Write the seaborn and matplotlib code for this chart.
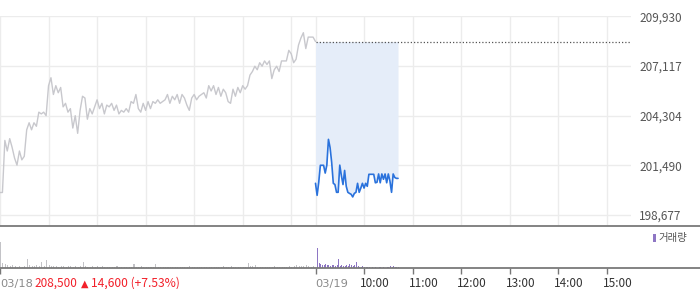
import numpy as np
import pandas as pd
import matplotlib
matplotlib.use("Agg")
import matplotlib.pyplot as plt
import matplotlib.transforms as mtransforms
from matplotlib.lines import Line2D
from matplotlib.patches import Rectangle
import seaborn as sns

# ---------------- data ----------------
prev_close = 208500
change_text = "14,600 (+7.53%)"
close_text = "208,500"

# day 1 (03/18) prices, every 3 minutes from 09:00 to 15:30
day1_price = [
    199950, 199950, 202900, 202300, 203000, 202500, 201900, 201500, 202300, 201800,
    202000, 203500, 203900, 203500, 203900, 203700, 204500, 204400, 204500, 204300,
    206000, 206450, 205500, 206000, 205600, 205900, 204800, 205000, 204500, 204700,
    203600, 204300, 203300, 204600, 205400, 205300, 204100, 204700, 204400, 204800,
    205200, 204700, 205000, 204400, 204900, 204800, 205000, 204600, 204900, 204400,
    204600, 204500, 204700, 204500, 205100, 205000, 205500, 204700, 204500, 205000,
    204600, 205100, 204700, 205100, 205000, 205200, 205000, 205100, 205200, 205500,
    205000, 205400, 205200, 205500, 205000, 205500, 205300, 204900, 204600, 205300,
    205500, 205200, 205400, 205500, 205600, 205300, 206000, 205700, 206000, 205500,
    205900, 205400, 205800, 205600, 205100, 205000, 205800, 205400, 205900, 205600,
    206000, 205800, 206000, 206600, 206800, 207100, 206900, 207300, 207100, 207400,
    207200, 207400, 206400, 206900, 207100, 206800, 207400, 207400, 207400, 208000,
    207800, 207300, 207500, 208300, 208700, 209000, 208100, 208750, 208750, 208750,
    208500,
]

# day 2 (03/19) prices, every 2 minutes from 09:00
day2_price = [
    200470, 199790, 200530, 201490, 201490, 201490, 201050, 201500, 202960, 202500,
    201650, 200470, 200400, 199960, 199960, 201500, 200900, 200400, 201200, 200300,
    199960, 199900, 199850, 199700, 199900, 199960, 200470, 199960, 200200, 200470,
    200200, 200470, 200300, 200980, 200980, 200980, 200980, 200500, 200530, 201000,
    200500, 201000, 200700, 201000, 200500, 201000, 200600, 199960, 201000, 200800,
    200750, 200750,
]

# volume (relative units)
day1_volume = [
    26, 5, 4, 3, 2, 3, 2, 1, 2, 1,
    2, 9, 3, 2, 2, 3, 2, 6, 2, 8,
    3, 2, 2, 2, 1, 2, 2, 1, 2, 2,
    1, 2, 1, 2, 6, 2, 1, 1, 2, 1,
    2, 1, 2, 1, 1, 1, 1, 1, 2, 1,
    1, 1, 1, 1, 1, 4, 1, 1, 2, 1,
    1, 1, 1, 1, 4, 1, 1, 1, 1, 1,
    1, 1, 1, 1, 1, 1, 1, 1, 2, 1,
    1, 1, 1, 1, 1, 1, 1, 1, 1, 1,
    1, 1, 2, 1, 1, 2, 1, 1, 1, 1,
    1, 1, 5, 2, 2, 3, 1, 1, 1, 1,
    1, 1, 1, 2, 1, 1, 1, 1, 1, 2,
    1, 2, 3, 2, 2, 2, 3, 2, 1, 2,
]
day2_volume = [
    36, 20, 5, 4, 3, 3, 4, 3, 3, 2,
    3, 3, 2, 3, 9, 2, 3, 2, 2, 3,
    2, 4, 3, 2, 3, 6, 2, 1, 1, 2,
    1, 1, 1, 1, 1, 1, 0, 1, 0, 1,
    1, 0, 1, 0, 1, 1, 2, 1, 2, 1,
    1, 1,
]

price_ticks = [198677, 201490, 204304, 207117, 209930]
tick_pos = [0, 390, 450, 510, 570, 630, 690, 750]
tick_labels = ["03/18", "03/19", "10:00", "11:00", "12:00", "13:00", "14:00", "15:00"]
legend_label = "거래량"

# ---------------- frames ----------------
t1 = np.arange(len(day1_price)) * 3
t2 = 390 + np.arange(len(day2_price)) * 2
df1 = pd.DataFrame({"t": t1, "price": day1_price})
df2 = pd.DataFrame({"t": t2, "price": day2_price})
vt1 = np.arange(len(day1_volume)) * 3
vt2 = 390 + np.arange(len(day2_volume)) * 2

# ---------------- style ----------------
sns.set_theme(style="white")
plt.rcParams["font.family"] = ["Noto Sans CJK KR", "DejaVu Sans"]

W, H = 700, 289
fig = plt.figure(figsize=(W / 100, H / 100), dpi=100)

def fx(px):
    return px / W

def fy(py):
    return 1 - py / H

ax = fig.add_axes([0, fy(225.7), fx(631), (225.7 - 16) / H])
axv = fig.add_axes([0, fy(268), fx(631), (268 - 226.5) / H])

grid_c = "#ececec"
for a in (ax, axv):
    for s in a.spines.values():
        s.set_visible(False)
    a.set_facecolor("none")

# price panel
ax.set_xlim(0, 780)
ax.set_ylim(198070, 209945)
for x in list(range(0, 390, 60)) + list(range(390, 780, 60)):
    ax.axvline(x, color=grid_c, lw=1, zorder=0)
for y in price_ticks:
    ax.axhline(y, color=grid_c, lw=1, zorder=0)

ax.fill_between(t2, day2_price, prev_close, color="#e5edf9", lw=0, zorder=1)
ax.hlines(prev_close, 390, 780, colors="#555555", linestyles=(0, (1, 1.6)), lw=0.9, zorder=2)
sns.lineplot(data=df1, x="t", y="price", ax=ax, color="#c8c8cd", lw=1.0, zorder=3)
sns.lineplot(data=df2, x="t", y="price", ax=ax, color="#2a72dc", lw=1.2, zorder=4)

ax.set_xlabel("")
ax.set_ylabel("")
ax.set_xticks([])
ax.yaxis.tick_right()
ax.set_yticks(price_ticks)
ax.set_yticklabels([f"{v:,}" for v in price_ticks])
ax.tick_params(axis="y", length=0, pad=6, labelsize=8.5, labelcolor="#555555")

# volume panel
axv.set_xlim(0, 780)
axv.set_ylim(0, 41.5)
axv.bar(vt1, day1_volume, width=1.3, align="edge", color="#c3c3c7", lw=0)
v2_colors = ["#c3c3c7"] + ["#8e76c4"] * (len(day2_volume) - 1)
axv.bar(vt2, day2_volume, width=1.2, align="edge", color=v2_colors, lw=0)
axv.set_yticks([])
axv.set_xticks(tick_pos)
axv.set_xticklabels([])
axv.tick_params(axis="x", direction="out", length=4, width=1, color="#777777", bottom=True)

# full-width separator lines
fig.add_artist(Line2D([0, 1], [fy(225.7), fy(225.7)], transform=fig.transFigure,
                      color="#7a7a7a", lw=1.3))
fig.add_artist(Line2D([0, 1], [fy(268), fy(268)], transform=fig.transFigure,
                      color="#7a7a7a", lw=1.3))

# bottom tick labels
trans = mtransforms.blended_transform_factory(axv.transData, fig.transFigure)
for pos, lab in zip(tick_pos, tick_labels):
    is_date = "/" in lab
    dx = 0 if is_date else -4
    col = "#8a8a8a" if is_date else "#333333"
    fam = ["DejaVu Sans"] if is_date else ["Noto Sans CJK KR", "DejaVu Sans"]
    size = 8.2 if is_date else 8.5
    axv.text(pos, fy(283.5), lab,
             transform=mtransforms.offset_copy(trans, fig=fig, x=dx, y=0, units="dots"),
             ha="left", va="center", fontsize=size, color=col, family=fam, clip_on=False)

red = "#f2202a"
fig.text(fx(34), fy(283.5), close_text, ha="left", va="center", fontsize=8.5, color=red)
fig.text(fx(80.5), fy(283.5), "▲", ha="left", va="center", fontsize=7,
         color=red, family=["DejaVu Sans"])
fig.text(fx(91), fy(283.5), change_text, ha="left", va="center", fontsize=8.7, color=red)

# legend
fig.add_artist(Rectangle((fx(653), fy(241.5)), fx(3), 8 / H, transform=fig.transFigure,
                         color="#8e76c4", lw=0))
fig.text(fx(658), fy(238), legend_label, ha="left", va="center", fontsize=7.5, color="#555555")

fig.savefig("out.png", dpi=100)
